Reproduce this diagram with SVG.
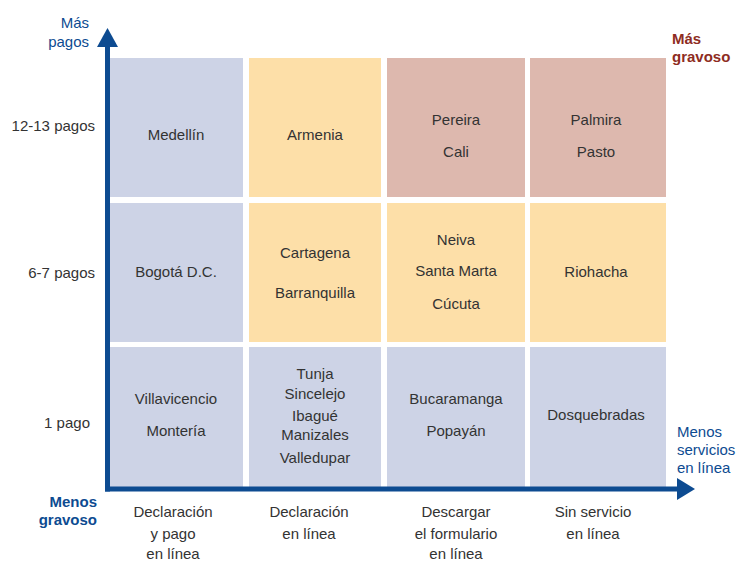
<svg xmlns="http://www.w3.org/2000/svg" width="738" height="562" viewBox="0 0 738 562">
<style>
text{font-family:"Liberation Sans",Arial,sans-serif;font-size:15px;fill:#333333}
.c{text-anchor:middle}
.r{text-anchor:end}
.ax{fill:#0d4b91}
.b{font-weight:bold}
.red{fill:#8e2c22}
.blu{fill:#cdd3e6}
.org{fill:#fddfa8}
.pnk{fill:#ddb8ae}
</style>
<g id="cells">
<g id="c11"><rect class="blu" x="110" y="58" width="133" height="139"/><text class="c" x="176" y="140">Medellín</text></g>
<g id="c12"><rect class="org" x="249" y="58" width="132" height="139"/><text class="c" x="315" y="140">Armenia</text></g>
<g id="c13"><rect class="pnk" x="387" y="58" width="138" height="139"/><text class="c" x="456" y="125">Pereira</text><text class="c" x="456" y="157">Cali</text></g>
<g id="c14"><rect class="pnk" x="530" y="58" width="136" height="139"/><text class="c" x="596" y="125">Palmira</text><text class="c" x="596" y="157">Pasto</text></g>
<g id="c21"><rect class="blu" x="110" y="203" width="133" height="139"/><text class="c" x="176" y="277">Bogotá D.C.</text></g>
<g id="c22"><rect class="org" x="249" y="203" width="132" height="139"/><text class="c" x="315" y="258">Cartagena</text><text class="c" x="315" y="298">Barranquilla</text></g>
<g id="c23"><rect class="org" x="387" y="203" width="138" height="139"/><text class="c" x="456" y="245">Neiva</text><text class="c" x="456" y="276">Santa Marta</text><text class="c" x="456" y="309">Cúcuta</text></g>
<g id="c24"><rect class="org" x="530" y="203" width="136" height="139"/><text class="c" x="596" y="277">Riohacha</text></g>
<g id="c31"><rect class="blu" x="110" y="347" width="133" height="140"/><text class="c" x="176" y="404">Villavicencio</text><text class="c" x="176" y="436">Montería</text></g>
<g id="c32"><rect class="blu" x="249" y="347" width="132" height="140"/><text class="c" x="315" y="379">Tunja</text><text class="c" x="315" y="399">Sincelejo</text><text class="c" x="315" y="421">Ibagué</text><text class="c" x="315" y="440">Manizales</text><text class="c" x="315" y="463">Valledupar</text></g>
<g id="c33"><rect class="blu" x="387" y="347" width="138" height="140"/><text class="c" x="456" y="404">Bucaramanga</text><text class="c" x="456" y="436">Popayán</text></g>
<g id="c34"><rect class="blu" x="530" y="347" width="136" height="140"/><text class="c" x="596" y="420">Dosquebradas</text></g>
</g>
<g id="connectors">
<line x1="107.5" y1="491.5" x2="107.5" y2="46" stroke="#0d4b91" stroke-width="5"/>
<polygon class="ax" points="107.5,28 97,47 118,47"/>
<line x1="105" y1="489" x2="679" y2="489" stroke="#0d4b91" stroke-width="5"/>
<polygon class="ax" points="695,489 677,478 677,500"/>
</g>
<g id="labels">
<text class="r ax" x="89" y="28">Más</text>
<text class="r ax" x="89" y="47">pagos</text>
<text class="r" x="95" y="131">12-13 pagos</text>
<text class="r" x="95" y="278">6-7 pagos</text>
<text class="r" x="90" y="428">1 pago</text>
<text class="r ax b" x="97" y="507">Menos</text>
<text class="r ax b" x="97" y="525">gravoso</text>
<text class="red b" x="672" y="44">Más</text>
<text class="red b" x="672" y="62">gravoso</text>
<text class="ax" x="677" y="437">Menos</text>
<text class="ax" x="677" y="455">servicios</text>
<text class="ax" x="677" y="473">en línea</text>
<text class="c" x="173" y="517">Declaración</text>
<text class="c" x="173" y="539">y pago</text>
<text class="c" x="173" y="559">en línea</text>
<text class="c" x="309" y="517">Declaración</text>
<text class="c" x="309" y="539">en línea</text>
<text class="c" x="456" y="517">Descargar</text>
<text class="c" x="456" y="539">el formulario</text>
<text class="c" x="456" y="559">en línea</text>
<text class="c" x="593" y="517">Sin servicio</text>
<text class="c" x="593" y="539">en línea</text>
</g>
</svg>
